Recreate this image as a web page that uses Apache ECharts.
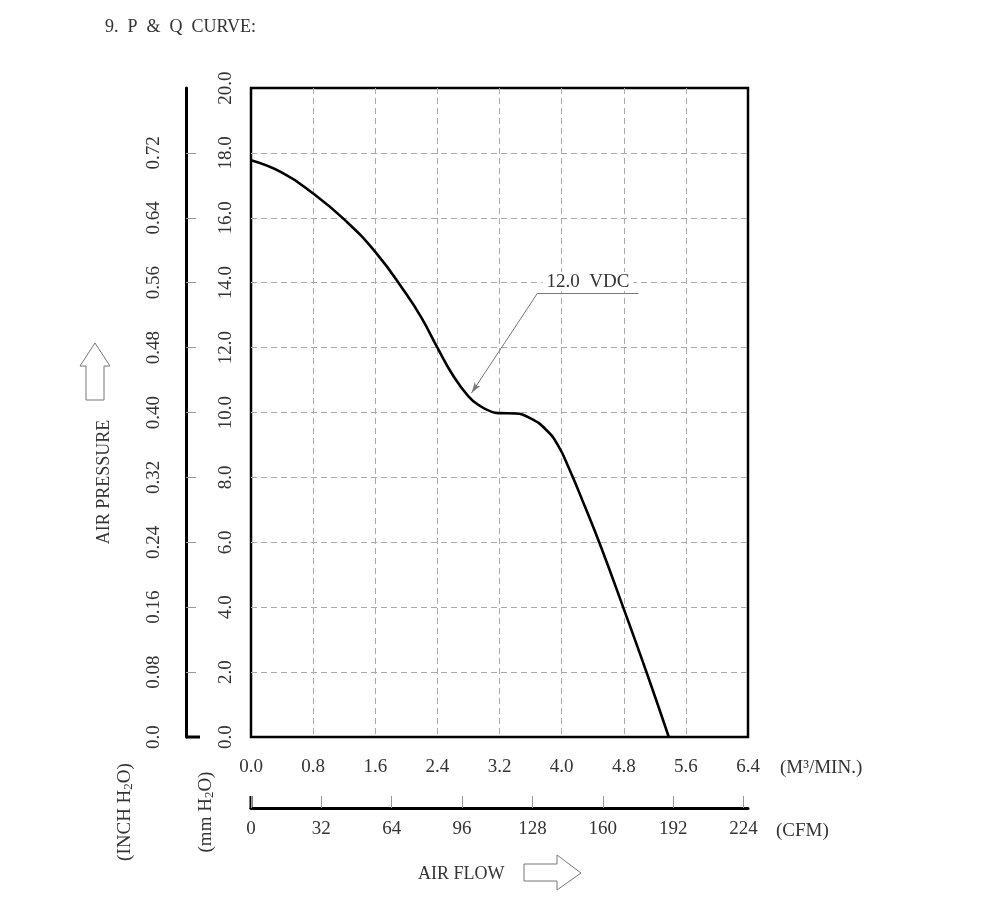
<!DOCTYPE html>
<html>
<head>
<meta charset="utf-8">
<script src="https://cdn.jsdelivr.net/npm/echarts@6/dist/echarts.min.js"></script>
<style>
html, body { margin: 0; padding: 0; background: #fff; }
#chartmain { width: 1000px; height: 906px; }
</style>
</head>
<body>
<div id="chartmain"></div>
<script>
// air flow (M3/MIN) and static pressure (mm H2O)
var flowM3 = [0, 0.4, 0.8, 1.2, 1.6, 2.0, 2.2, 2.4, 2.6, 2.8, 2.95, 3.1, 3.2, 3.4, 3.6, 3.8, 3.95, 4.1, 4.3, 4.5, 4.8, 5.1, 5.38];
var pressureMm = [17.77, 17.39, 16.75, 15.95, 14.95, 13.65, 12.9, 12.0, 11.15, 10.5, 10.2, 10.02, 9.98, 9.97, 9.82, 9.47, 9.0, 8.25, 7.1, 5.9, 3.95, 1.95, 0];

// tick labels
var m3Ticks = [0, 0.8, 1.6, 2.4, 3.2, 4.0, 4.8, 5.6, 6.4];
var cfmTicks = [0, 32, 64, 96, 128, 160, 192, 224];
var mmTicks = [0, 2, 4, 6, 8, 10, 12, 14, 16, 18, 20];
var inchTicks = [0, 0.08, 0.16, 0.24, 0.32, 0.40, 0.48, 0.56, 0.64, 0.72];

// 12.0 VDC leader line (data units)
var leaderKnee = [3.69, 13.68];
var leaderEnd = [4.99, 13.68];
var leaderTip = [2.84, 10.6];

var FONT = '"Liberation Serif", "DejaVu Serif", serif';
var TXT = '#333';

var curve = flowM3.map(function (x, i) { return [x, pressureMm[i]]; });

var gridSplit = {
    show: true, showMinLine: false, showMaxLine: false,
    lineStyle: { color: '#aaa', type: [6, 4], width: 1 }
};

window.onload = function () {
    var myChart = echarts.init(document.getElementById('chartmain'));

    var option = {
        backgroundColor: '#fff',
        animation: false,
        grid: {
            left: 251, right: 252, top: 88, bottom: 169,
            show: true, borderColor: '#000', borderWidth: 2.5, backgroundColor: 'transparent'
        },
        xAxis: [
            {
                type: 'value', min: 0, max: 6.4, interval: 0.8, position: 'bottom',
                axisLine: { show: false }, axisTick: { show: false },
                axisLabel: {
                    customValues: m3Ticks, margin: 21, fontFamily: FONT, fontSize: 19, color: TXT,
                    formatter: function (v) { return v.toFixed(1); }
                },
                splitLine: gridSplit
            },
            {
                type: 'value', min: 0, max: 226, position: 'bottom', offset: 71,
                axisLine: { show: true, onZero: false, lineStyle: { color: '#000', width: 3 } },
                axisTick: { show: true, inside: true, length: 12, customValues: cfmTicks, lineStyle: { color: '#999', width: 1 } },
                axisLabel: { customValues: cfmTicks, margin: 12, fontFamily: FONT, fontSize: 19, color: TXT },
                splitLine: { show: false }
            }
        ],
        yAxis: [
            {
                type: 'value', min: 0, max: 20, interval: 2, position: 'left',
                axisLine: { show: false }, axisTick: { show: false },
                axisLabel: {
                    customValues: mmTicks, rotate: 90, margin: 15, fontFamily: FONT, fontSize: 19, color: TXT,
                    formatter: function (v) { return v.toFixed(1); }
                },
                splitLine: gridSplit
            },
            {
                type: 'value', min: 0, max: 0.8, position: 'left', offset: 65,
                axisLine: { show: true, onZero: false, lineStyle: { color: '#000', width: 3 } },
                axisTick: { show: true, inside: true, length: 10, customValues: inchTicks.slice(1), lineStyle: { color: '#999', width: 1 } },
                axisLabel: {
                    customValues: inchTicks, rotate: 90, margin: 22, fontFamily: FONT, fontSize: 19, color: TXT,
                    formatter: function (v) { return v === 0 ? '0.0' : v.toFixed(2); }
                },
                splitLine: { show: false }
            }
        ],
        series: [
            {
                name: '12.0 VDC',
                type: 'line',
                xAxisIndex: 0, yAxisIndex: 0,
                data: curve,
                smooth: 0.5,
                showSymbol: false,
                lineStyle: { color: '#000', width: 2.6 },
                z: 5,
                markLine: {
                    silent: true,
                    symbol: ['none', 'none'],
                    lineStyle: { color: '#777', width: 1, type: 'solid' },
                    label: { show: false },
                    data: [
                        [
                            { coord: leaderKnee },
                            {
                                coord: leaderEnd,
                                label: {
                                    show: true, position: 'insideMiddleTop', formatter: '12.0  VDC',
                                    fontFamily: FONT, fontSize: 19, color: TXT,
                                    backgroundColor: '#fff', padding: [0, 4], distance: 2
                                }
                            }
                        ],
                        [
                            { coord: leaderKnee },
                            { coord: leaderTip, symbol: 'arrow', symbolSize: [5, 11], itemStyle: { color: '#000' } }
                        ]
                    ]
                }
            }
        ],
        graphic: [
            { type: 'text', left: 105, top: 18, style: { text: '9.  P  &  Q  CURVE:', font: '18px ' + FONT, fill: TXT } },
            // pressure side
            {
                type: 'text', x: 104, y: 482, rotation: Math.PI / 2,
                style: { text: 'AIR PRESSURE', font: '18px ' + FONT, fill: TXT, align: 'center', verticalAlign: 'middle' }
            },
            {
                type: 'polygon',
                shape: { points: [[95, 343], [110, 366], [104, 366], [104, 400], [86, 400], [86, 366], [80, 366]] },
                style: { fill: '#fff', stroke: '#777', lineWidth: 1 }
            },
            {
                type: 'text', x: 125, y: 812, rotation: Math.PI / 2,
                style: {
                    text: '(INCH H{s|2}O)', font: '19px ' + FONT, fill: TXT, align: 'center', verticalAlign: 'middle',
                    rich: { s: { fontSize: 13, fontFamily: FONT, fill: TXT, padding: [8, 0, 0, 0] } }
                }
            },
            {
                type: 'text', x: 206, y: 812, rotation: Math.PI / 2,
                style: {
                    text: '(mm H{s|2}O)', font: '19px ' + FONT, fill: TXT, align: 'center', verticalAlign: 'middle',
                    rich: { s: { fontSize: 13, fontFamily: FONT, fill: TXT, padding: [8, 0, 0, 0] } }
                }
            },
            { type: 'line', shape: { x1: 186, y1: 737, x2: 200, y2: 737 }, style: { stroke: '#000', lineWidth: 3 } },
            // flow side
            {
                type: 'text', x: 780, y: 768,
                style: { text: '(M³/MIN.)', font: '19px ' + FONT, fill: TXT, verticalAlign: 'middle' }
            },
            {
                type: 'text', x: 776, y: 831,
                style: { text: '(CFM)', font: '19px ' + FONT, fill: TXT, verticalAlign: 'middle' }
            },
            {
                type: 'text', x: 418, y: 874,
                style: { text: 'AIR FLOW', font: '18px ' + FONT, fill: TXT, verticalAlign: 'middle' }
            },
            {
                type: 'polygon',
                shape: { points: [[524, 864], [557, 864], [557, 855], [581, 873], [557, 890], [557, 881], [524, 881]] },
                style: { fill: '#fff', stroke: '#777', lineWidth: 1 }
            },
            { type: 'line', shape: { x1: 251, y1: 796, x2: 251, y2: 809 }, style: { stroke: '#000', lineWidth: 3 } }
        ]
    };

    myChart.setOption(option);
};
</script>
</body>
</html>
